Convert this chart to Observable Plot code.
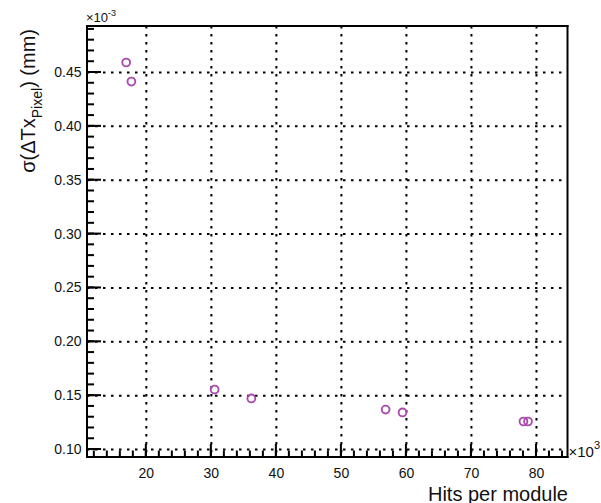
<!DOCTYPE html>
<html>
<head>
<meta charset="utf-8">
<script src="https://cdn.jsdelivr.net/npm/d3@7"></script>
<script src="https://cdn.jsdelivr.net/npm/@observablehq/plot@0.6"></script>
<style>
  html, body { margin: 0; padding: 0; background: #fff; }
  svg text { font-family: "Liberation Sans", Arial, Helvetica, sans-serif; }
</style>
</head>
<body>
<div id="chart"></div>
<script>
// Data (x in units of 10^3 hits, y in units of 10^-3 mm)
const hits = [16.9, 17.7, 30.5, 36.15, 56.8, 59.4, 78.0, 78.7];
const sigma = [0.4593, 0.4416, 0.1557, 0.1474, 0.1371, 0.1344, 0.1260, 0.1260];
const xTicks = [20, 30, 40, 50, 60, 70, 80];
const yTicks = [0.10, 0.15, 0.20, 0.25, 0.30, 0.35, 0.40, 0.45];
const xMinor = d3.range(12, 85, 2);
const yMinor = d3.range(10, 50).map(v => v / 100);
const xTitle = "Hits per module";
const xDomain = [10.95, 84.85];
const yDomain = [0.0926, 0.4927];

const points = hits.map((h, i) => ({hits: h, sigma: sigma[i]}));

const W = 601, H = 503;
const mL = 87, mR = 33.5, mT = 26, mB = 46;
const fw = W - mL - mR, fh = H - mT - mB;
const dot = "#ab4aaf";
const font = "Liberation Sans, Arial, Helvetica, sans-serif";

// pixel sizes converted through the scale spans
const xPerPx = (xDomain[1] - xDomain[0]) / fw;
const yPerPx = (yDomain[1] - yDomain[0]) / fh;
const thX = 1 * xPerPx, thY = 1 * yPerPx; // half line thickness

// filled thin rectangles for ticks and frame
const yMinorRects = yMinor.map(v => ({x1: xDomain[0], x2: xDomain[0] + 7 * xPerPx, y1: v - thY, y2: v + thY}));
const yMajorRects = yTicks.map(v => ({x1: xDomain[0], x2: xDomain[0] + 14 * xPerPx, y1: v - thY, y2: v + thY}));
const xMinorRects = xMinor.map(v => ({x1: v - thX, x2: v + thX, y1: yDomain[0], y2: yDomain[0] + 6.5 * yPerPx}));
const xMajorRects = xTicks.map(v => ({x1: v - thX, x2: v + thX, y1: yDomain[0], y2: yDomain[0] + 13 * yPerPx}));
const frameRects = [
  {x1: xDomain[0] - thX, x2: xDomain[0] + thX, y1: yDomain[0] - thY, y2: yDomain[1] + thY},
  {x1: xDomain[1] - thX, x2: xDomain[1] + thX, y1: yDomain[0] - thY, y2: yDomain[1] + thY},
  {x1: xDomain[0] - thX, x2: xDomain[1] + thX, y1: yDomain[0] - thY, y2: yDomain[0] + thY},
  {x1: xDomain[0] - thX, x2: xDomain[1] + thX, y1: yDomain[1] - thY, y2: yDomain[1] + thY}
];
const allRects = [...yMinorRects, ...yMajorRects, ...xMinorRects, ...xMajorRects, ...frameRects];

const plot = Plot.plot({
  width: W,
  height: H,
  marginLeft: mL,
  marginRight: mR,
  marginTop: mT,
  marginBottom: mB,
  x: {domain: xDomain, axis: null},
  y: {domain: yDomain, axis: null},
  marks: [
    Plot.gridX(xTicks, {stroke: "black", strokeOpacity: 1, strokeWidth: 2, strokeDasharray: "2.5,5.5"}),
    Plot.gridY(yTicks, {stroke: "black", strokeOpacity: 1, strokeWidth: 2, strokeDasharray: "2.5,5.5"}),
    Plot.rect(allRects, {x1: "x1", x2: "x2", y1: "y1", y2: "y2", fill: "black", fillOpacity: 1, clip: false}),
    Plot.dot(points, {x: "hits", y: "sigma", r: 3.9, stroke: dot, strokeWidth: 1.9, fill: "none"}),
    Plot.axisY(yTicks, {tickSize: 0, tickPadding: 6, tickFormat: d3.format(".2f"), fontSize: 14, label: null, fill: "#111"}),
    Plot.axisX(xTicks, {tickSize: 0, tickPadding: 11, tickFormat: d => String(d), fontSize: 14, label: null, fill: "#111"}),
    Plot.text([xTitle], {frameAnchor: "bottom-right", textAnchor: "end", lineAnchor: "bottom", dy: 43, dx: 0, fontSize: 20, fill: "#111"})
  ]
});

document.getElementById("chart").appendChild(plot);

// Additional text with sub/superscripts
const svg = d3.select(plot);

// Y axis title: σ(ΔTx_Pixel) (mm)
const yt = svg.append("text")
  .attr("transform", `translate(35,${mT + 3}) rotate(-90)`)
  .attr("text-anchor", "end")
  .attr("font-size", 20)
  .attr("fill", "#111")
  .style("font-family", font);
yt.append("tspan").text("σ(ΔTx");
yt.append("tspan").attr("font-size", 14).attr("dy", 7).text("Pixel");
yt.append("tspan").attr("dy", -7).text(") (mm)");

// ×10^-3 at top-left
const e1 = svg.append("text")
  .attr("x", mL - 1)
  .attr("y", mT - 4)
  .attr("text-anchor", "start")
  .attr("font-size", 13)
  .attr("fill", "#111")
  .style("font-family", font);
e1.append("tspan").text("×10");
e1.append("tspan").attr("font-size", 9).attr("dy", -6).text("-3");

// ×10^3 at bottom-right
const e2 = svg.append("text")
  .attr("x", W - mR + 1)
  .attr("y", H - mB)
  .attr("text-anchor", "start")
  .attr("font-size", 15)
  .attr("fill", "#111")
  .style("font-family", font);
e2.append("tspan").text("×10");
e2.append("tspan").attr("font-size", 11).attr("dy", -8).text("3");
</script>
</body>
</html>
